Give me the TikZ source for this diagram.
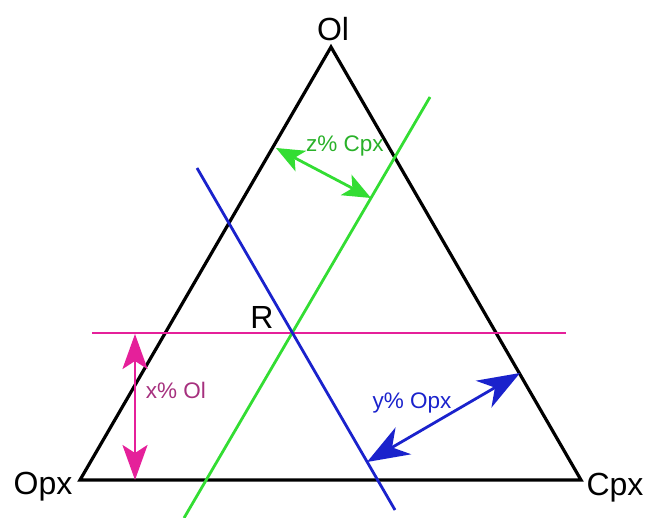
\documentclass[tikz,border=0pt]{standalone}
\usepackage{fontspec}
\setmainfont{Liberation Sans}
\usetikzlibrary{arrows.meta}
\definecolor{OlPink}{HTML}{E5209A}
\definecolor{OlText}{HTML}{A6307E}
\definecolor{CpxGreen}{HTML}{33DD33}
\definecolor{OpxBlue}{HTML}{1A22CC}

\begin{document}
\begin{tikzpicture}[x=1pt, y=-1pt, every node/.style={font=\fontsize{22.5}{26}\selectfont}]
    \tikzstyle{corner}=[font=\fontsize{32}{36}\selectfont, inner sep=0pt]
    \tikzstyle{tie}=[line width=2.8pt]
    \tikzstyle{measure}=[line width=2.8pt]
    \useasboundingbox (0,0) rectangle (647,518);
    % triangle corners
    \coordinate (ol) at (331,47);
    \coordinate (opx) at (80,480);
    \coordinate (cpx) at (581,480);
    \coordinate (r) at (292,333);
    \draw[line width=3.2pt, line join=miter] (opx) -- (ol) -- (cpx) -- cycle;
    \node[corner] (olLabel) at (333,29) {Ol};
    \node[corner] (opxLabel) at (43,487) {Opx};
    \node[corner] (cpxLabel) at (615,488) {Cpx};
    % lines through R
    \coordinate (pinkA) at (92,333);
    \coordinate (pinkB) at (566,333);
    \coordinate (greenA) at (184,518);
    \coordinate (greenB) at (430,97);
    \coordinate (blueA) at (197,168);
    \coordinate (blueB) at (395,510);
    \draw[tie, OlPink] (pinkA) -- (pinkB);
    \draw[tie, CpxGreen] (greenA) -- (greenB);
    \draw[tie, OpxBlue] (blueA) -- (blueB);
    \node[corner] (rLabel) at (262,317) {R};
    % distances
    \coordinate (xTop) at (135,334);
    \coordinate (xBot) at (135,480);
    \coordinate (zLeft) at (276,148);
    \coordinate (zRight) at (371,198);
    \coordinate (yRight) at (520,373);
    \coordinate (yLeft) at (367,462);
    \draw[measure, OlPink, {Stealth[length=35pt, width=25pt, inset=8pt]}-{Stealth[length=35pt, width=25pt, inset=8pt]}] (xTop) -- (xBot);
    \draw[measure, CpxGreen, {Stealth[length=28pt, width=23pt, inset=7pt]}-{Stealth[length=28pt, width=23pt, inset=7pt]}] (zLeft) -- (zRight);
    \draw[measure, OpxBlue, {Stealth[length=42pt, width=31pt, inset=13pt]}-{Stealth[length=42pt, width=31pt, inset=13pt]}] (yRight) -- (yLeft);
    \node[text=OlText, inner sep=0pt] (xLabel) at (176,390) {x\% Ol};
    \node[text=CpxGreen!80!black, inner sep=0pt] (zLabel) at (345,146) {z\% Cpx};
    \node[text=OpxBlue, inner sep=0pt] (yLabel) at (412,403) {y\% Opx};
\end{tikzpicture}
\end{document}
